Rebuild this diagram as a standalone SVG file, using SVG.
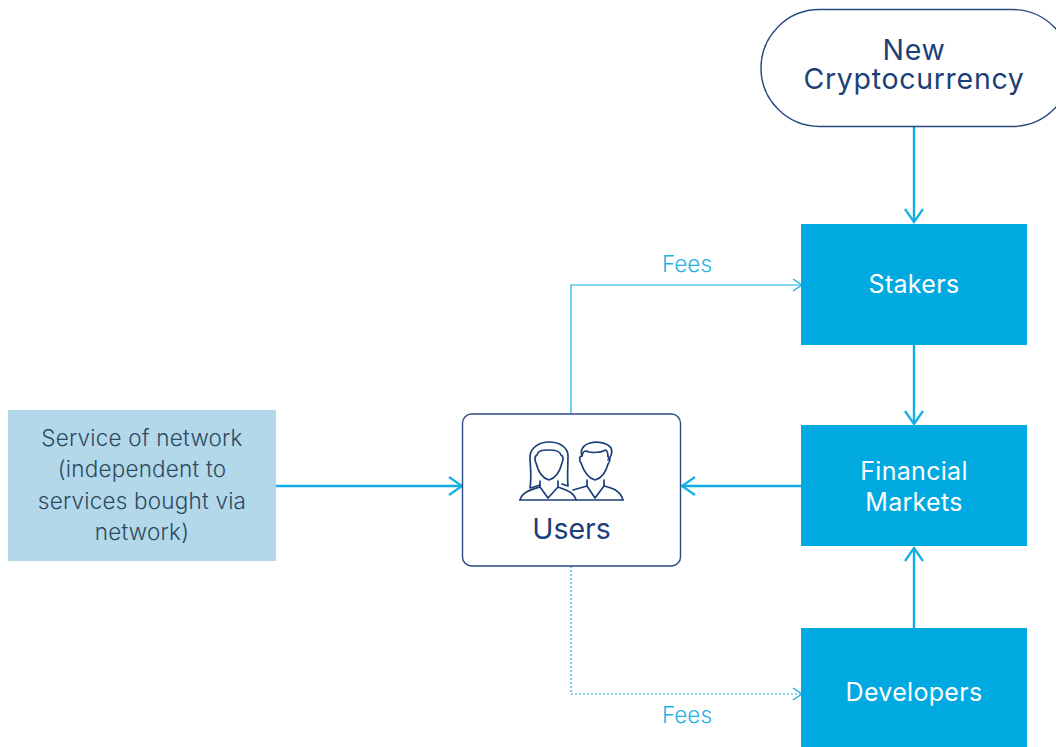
<svg xmlns="http://www.w3.org/2000/svg" width="1056" height="747" viewBox="0 0 1056 747">
<style>
text{font-family:Inter,"Noto Sans","Liberation Sans",sans-serif;text-anchor:middle;font-weight:300}
.blue{fill:#00a9e0}
.w{fill:#fff;font-size:25px;letter-spacing:.3px;font-weight:400}
.d{fill:#1c3f78;font-size:28.500px;letter-spacing:.7px;font-weight:400}
.g{fill:#2e4a5e;font-size:22.500px;letter-spacing:.2px}
.f{fill:#1db2e6;font-size:22.500px}
.c{fill:none;stroke:#12ade2}
.th{stroke-width:2.400}
.tn{stroke-width:1.200}
.i{fill:none;stroke:#1c3f78;stroke-width:1.700;stroke-linejoin:round;stroke-linecap:round}
</style>
<defs>
<marker id="a" markerUnits="userSpaceOnUse" viewBox="-16 -11 18 22" refX="0" refY="0" markerWidth="18" markerHeight="22" orient="auto"><path d="M-13-9L0 0L-13 9" fill="none" stroke="#12ade2" stroke-width="2.200"/></marker>
<marker id="b" markerUnits="userSpaceOnUse" viewBox="-14 -10 16 20" refX="0" refY="0" markerWidth="16" markerHeight="20" orient="auto"><path d="M-9-6L0 0L-9 6" fill="none" stroke="#12ade2" stroke-width="1.300"/></marker>
</defs>
<rect width="1056" height="747" fill="#fff"/>
<g id="connectors">
<path class="c th" d="M914 127V222" marker-end="url(#a)"/>
<path class="c th" d="M914 345V424" marker-end="url(#a)"/>
<path class="c th" d="M914 628V548" marker-end="url(#a)"/>
<path class="c th" d="M801 486H682" marker-end="url(#a)"/>
<path class="c th" d="M276 486H462" marker-end="url(#a)"/>
<path class="c tn" d="M571 413V285H802" marker-end="url(#b)"/>
<path class="c tn" stroke-dasharray="2 2" d="M571 566V694H802" marker-end="url(#b)"/>
<text class="f" x="687" y="272">Fees</text>
<text class="f" x="687" y="723">Fees</text>
</g>
<g id="new-cryptocurrency">
<rect x="761" y="9.500" width="310" height="117" rx="58.500" fill="#fff" stroke="#2a4a80" stroke-width="1.400"/>
<text class="d"><tspan x="914" y="59.500">New</tspan><tspan x="914" y="89">Cryptocurrency</tspan></text>
</g>
<g id="stakers"><rect class="blue" x="801" y="224" width="226" height="121"/><text class="w" x="914" y="292.500">Stakers</text></g>
<g id="financial-markets"><rect class="blue" x="801" y="425" width="226" height="121"/><text class="w"><tspan x="914" y="479.500">Financial</tspan><tspan x="914" y="510.500">Markets</tspan></text></g>
<g id="developers"><rect class="blue" x="801" y="628" width="226" height="119"/><text class="w" x="914" y="701">Developers</text></g>
<g id="service">
<rect x="8" y="410" width="268" height="151" fill="#b2d8ea"/>
<text class="g"><tspan x="142" y="446">Service of network</tspan><tspan x="142" y="477">(independent to</tspan><tspan x="142" y="509">services bought via</tspan><tspan x="142" y="540">network)</tspan></text>
</g>
<g id="users">
<rect x="462.500" y="414" width="218" height="152" rx="9" fill="#fff" stroke="#2a4a80" stroke-width="1.400"/>
<path class="i" d="M520 500H623"/>
<path class="i" d="M520 500C522 492 530 490 540 487L548 498L558 487C566 490 574 492 576 500"/>
<path class="i" d="M573 490L580 488L587 486L595 498L604 486C612 488 620 490 623 500"/>
<path class="i" d="M540 487V481M558 487V481M587 486V480M604 486V480"/>
<path class="i" d="M536 463C534 458 535 456 537 455C538 451 541 450 549 450C556 450 560 451 561 455C563 456 564 458 562 463C560 471 556 478 549 480C542 478 538 471 536 463Z"/>
<path class="i" d="M540 485C534 487 531 488 530 488C532 476 530 466 530 456C531 447 540 442 549 442C559 442 568 447 568 456C568 466 567 476 568 486L562 484"/>
<path class="i" d="M581 463C579 460 579 456 582 456C583 451 585 450 589 452C595 453 602 452 606 450C608 452 608 455 608 457C611 457 610 462 608 464C606 472 602 478 595 480C588 478 584 472 581 463Z"/>
<path class="i" d="M582 456C580 450 583 445 590 443C598 441 608 443 611 448C613 452 611 457 608 460"/>
<text class="d" x="571.500" y="539" style="letter-spacing:0">Users</text>
</g>
</svg>
